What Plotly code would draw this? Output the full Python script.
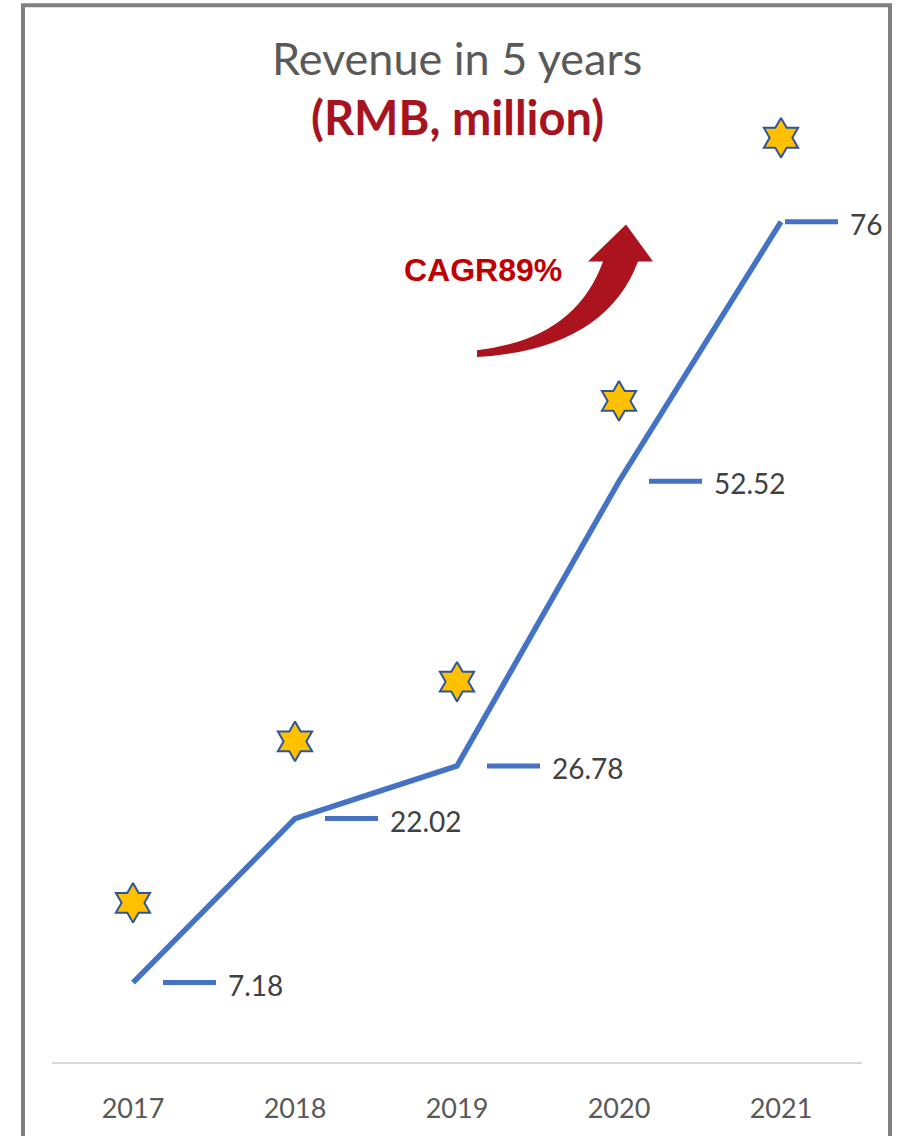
import plotly.graph_objects as go

years = ["2017", "2018", "2019", "2020", "2021"]
revenue = [7.18, 22.02, 26.78, 52.52, 76]
star_level = [14.4, 29.0, 34.4, 59.8, 83.6]
label_text = ["7.18", "22.02", "26.78", "52.52", "76"]

W, H = 902, 1136
ML, MR, MT, MB = 52, 40, 67, 71
PW, PH = W - ML - MR, H - MT - MB


def px(x):
    return (x - ML) / PW


def py(y):
    return (H - MB - y) / PH


BLUE = "#4472C4"
FONT = "Lato"

fig = go.Figure()
fig.add_trace(go.Scatter(
    x=years, y=revenue, mode="lines",
    line=dict(color=BLUE, width=5.5), hoverinfo="skip", showlegend=False,
))
fig.add_trace(go.Scatter(
    x=years, y=star_level, mode="markers",
    marker=dict(symbol="hexagram", size=30, color="#FFC000",
                line=dict(color="#2F5597", width=2)),
    hoverinfo="skip", showlegend=False,
))

shapes = []
annotations = []
n = len(revenue)
for i, (v, t) in enumerate(zip(revenue, label_text)):
    off = 30 if i < n - 1 else 4  # last label pulled inside the chart edge
    shapes.append(dict(type="line", xref="x", yref="y", xsizemode="pixel",
                       xanchor=i, x0=off, x1=off + 53, y0=v, y1=v,
                       line=dict(color=BLUE, width=5)))
    annotations.append(dict(x=i, y=v, xref="x", yref="y", text=t,
                            showarrow=False, xanchor="left", yanchor="middle",
                            xshift=off + 63, yshift=-2,
                            font=dict(family=FONT, size=28, color="#404040")))

# outer border
shapes.append(dict(type="rect", xref="paper", yref="paper",
                   x0=px(23), x1=px(890), y0=py(1150), y1=py(5),
                   line=dict(color="#808080", width=4), fillcolor="rgba(0,0,0,0)"))

# curved arrow
pts = lambda x, y: f"{px(x):.5f},{py(y):.5f}"
path = ("M " + pts(477, 358) +
        " Q " + pts(605, 350) + " " + pts(638, 262) +
        " L " + pts(653, 262) +
        " L " + pts(626, 225) +
        " L " + pts(588, 262) +
        " L " + pts(603, 262) +
        " Q " + pts(575, 340) + " " + pts(477, 351) + " Z")
shapes.append(dict(type="path", xref="paper", yref="paper", path=path,
                   fillcolor="#AB141E", line=dict(width=0)))

annotations += [
    dict(x=px(457), y=py(58), xref="paper", yref="paper", text="Revenue in 5 years",
         showarrow=False, xanchor="center", yanchor="middle",
         font=dict(family=FONT, size=45, color="#595959")),
    dict(x=px(457), y=py(117), xref="paper", yref="paper", text="<b>(RMB, million)</b>",
         showarrow=False, xanchor="center", yanchor="middle",
         font=dict(family=FONT, size=47, color="#A6141F")),
    dict(x=px(483), y=py(271), xref="paper", yref="paper", text="<b>CAGR89%</b>",
         showarrow=False, xanchor="center", yanchor="middle",
         font=dict(family="Liberation Sans", size=32, color="#C00000")),
]

fig.update_layout(
    width=W, height=H,
    margin=dict(l=ML, r=MR, t=MT, b=MB),
    paper_bgcolor="white", plot_bgcolor="white",
    shapes=shapes, annotations=annotations,
    xaxis=dict(type="category", range=[-0.5, 4.5], showgrid=False, zeroline=False,
               showline=True, linecolor="#D9D9D9", linewidth=2, ticks="",
               ticklabelstandoff=22,
               tickfont=dict(family=FONT, size=27, color="#595959")),
    yaxis=dict(range=[0, 90], visible=False, showgrid=False, zeroline=False),
)

fig.write_html("out.html")
